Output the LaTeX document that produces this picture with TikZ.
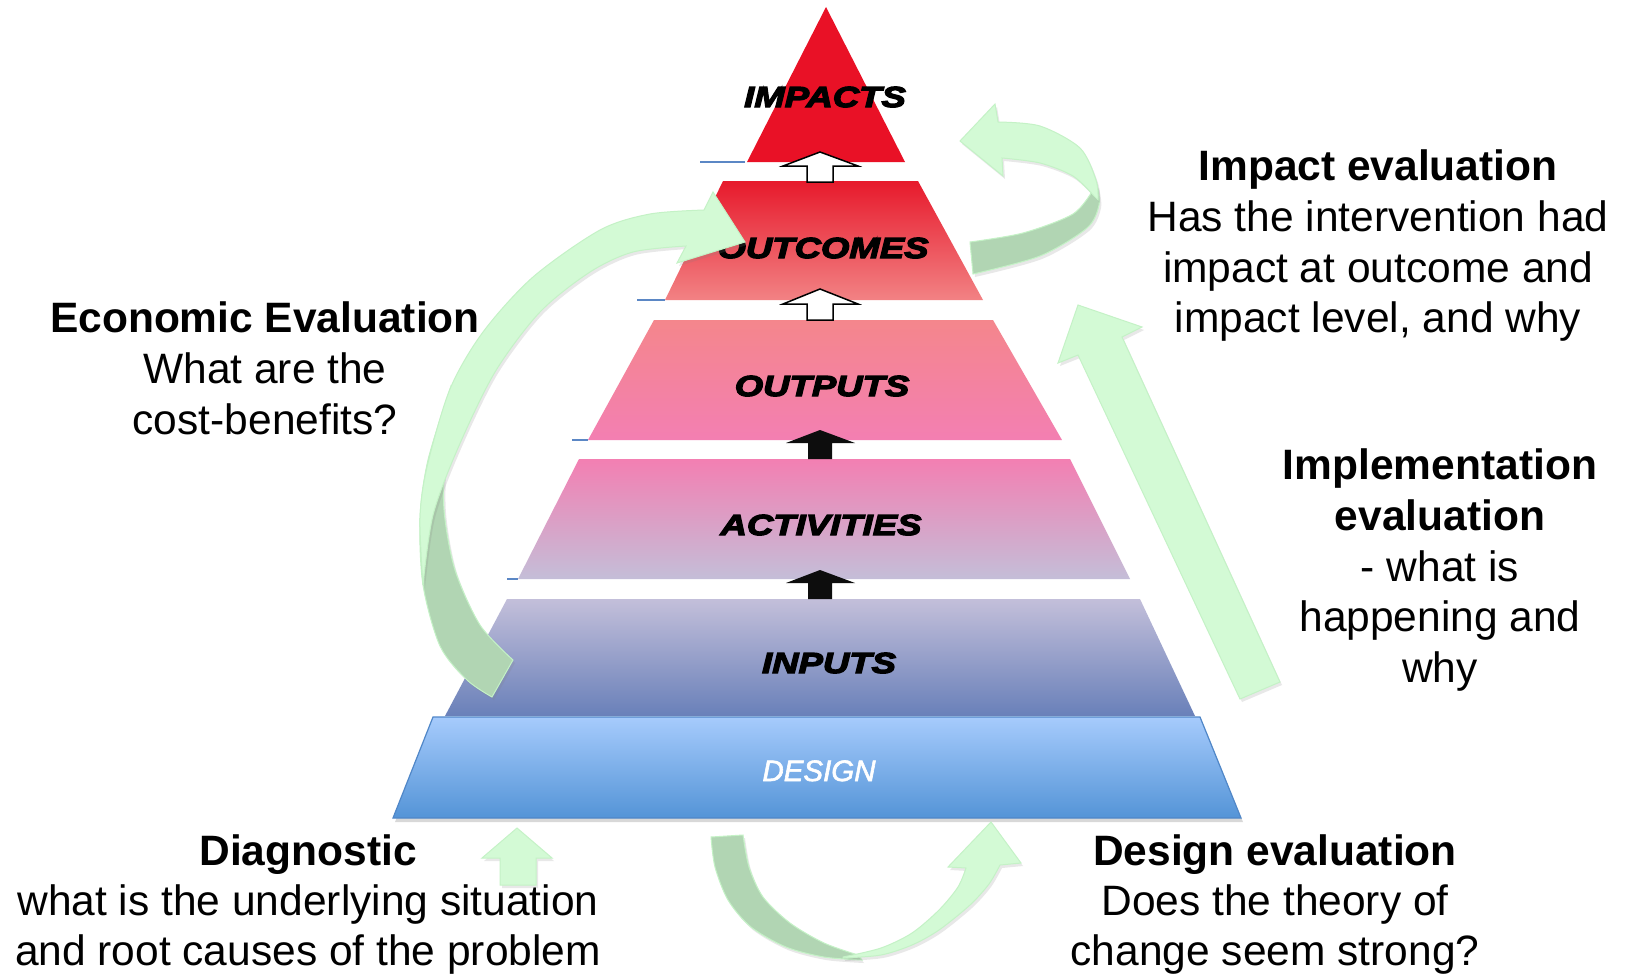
\documentclass[tikz,border=0pt]{standalone}
\usepackage{fontspec}
\setmainfont{Liberation Sans}
\newfontfamily\pyrfont[FakeStretch=1.26,FakeBold=4.5]{Liberation Sans}
\newfontfamily\desfont[FakeBold=2]{Liberation Sans}
\usetikzlibrary{shadows}
\definecolor{glight}{RGB}{211,250,213}
\definecolor{gdark}{RGB}{177,213,179}
\definecolor{gline}{RGB}{196,242,198}
\definecolor{redA}{RGB}{233,17,38}
\definecolor{redB}{RGB}{231,26,44}
\definecolor{salmon}{RGB}{242,130,132}
\definecolor{salmonB}{RGB}{244,134,140}
\definecolor{pinkA}{RGB}{243,127,178}
\definecolor{lavA}{RGB}{196,190,216}
\definecolor{lavB}{RGB}{195,191,218}
\definecolor{blueI}{RGB}{105,128,185}
\definecolor{dTop}{RGB}{166,203,252}
\definecolor{dBot}{RGB}{84,148,215}
\definecolor{dEdge}{RGB}{80,135,200}
\definecolor{tick}{RGB}{91,135,197}
\begin{document}
\begin{tikzpicture}[x=1pt,y=-1pt,
  txt/.style={font=\fontsize{42.5}{48}\selectfont, anchor=base, inner sep=0pt},
  pyr/.style={font=\pyrfont\bfseries\itshape\fontsize{29}{30}\selectfont, anchor=base, inner sep=0pt},
  garrow/.style={fill=glight, draw=gline, line width=1},
  gback/.style={fill=gdark, draw=gline, line width=1},
  gshadow/.style={drop shadow={opacity=0.18, shadow xshift=2pt, shadow yshift=-3pt}},
  whitearr/.style={fill=white, draw=black, line width=1.5},
  blackarr/.style={fill=black!95},
  bluetick/.style={draw=tick, line width=1.5}]
\useasboundingbox (0,0) rectangle (1625,975);
\fill[white] (0,0) rectangle (1625,975);

% ---------- pyramid layers ----------
\fill[redA] (826,7) -- (905,162) -- (747,162) -- cycle;
\shade[top color=redB, bottom color=salmon] (723,181) -- (918,181) -- (983,300) -- (665,300) -- cycle;
\shade[top color=salmonB, bottom color=pinkA] (654,320) -- (993,320) -- (1062,440) -- (588,440) -- cycle;
\shade[top color=pinkA, bottom color=lavA] (579,459) -- (1070,459) -- (1130,579) -- (518,579) -- cycle;
\shade[top color=lavB, bottom color=blueI] (507,599) -- (1140,599) -- (1195,716) -- (445,716) -- cycle;
\shade[top color=dTop, bottom color=dBot, drop shadow={opacity=0.3, shadow xshift=2pt, shadow yshift=-4pt}]
  (433,717) -- (1200,717) -- (1241,818) -- (393,818) -- cycle;
\draw[dEdge, line width=1.2] (433,717) -- (1200,717) -- (1241,818) -- (393,818) -- cycle;

% small blue ticks
\draw[bluetick] (700,162) -- (745,162);
\draw[bluetick] (637,300) -- (665,300);
\draw[bluetick] (572,440) -- (588,440);
\draw[bluetick] (507,579) -- (518,579);

% ---------- layer labels ----------
\node[pyr] (limp) at (825,107) {IMPACTS};
\node[pyr] (lout) at (823,258) {OUTCOMES};
\node[pyr] (lop)  at (822,396) {OUTPUTS};
\node[pyr] (lact) at (821,535) {ACTIVITIES};
\node[pyr] (linp) at (829,673) {INPUTS};
\node[font=\desfont\itshape\fontsize{29.5}{30}\selectfont, text=white, anchor=base, inner sep=0pt] (ldes) at (819,781) {DESIGN};

% ---------- arrows between layers ----------
\path[whitearr] (820,152) -- (858,166) -- (833,166) -- (833,182) -- (807,182) -- (807,166) -- (783,166) -- cycle;
\path[whitearr] (820,289) -- (858,304) -- (833,304) -- (833,320) -- (807,320) -- (807,304) -- (783,304) -- cycle;
\path[blackarr] (820,430) -- (855,443) -- (832,443) -- (832,459) -- (808,459) -- (808,443) -- (786,443) -- cycle;
\path[blackarr] (820,570) -- (855,583) -- (832,583) -- (832,599) -- (808,599) -- (808,583) -- (786,583) -- cycle;

% ---------- Economic evaluation curved arrow ----------
\path[gback, gshadow] plot[smooth] coordinates {(450,389) (428,460) (420,518) (423,585) (440,646) (467,680) (492,697)}
  -- (513,660) -- plot[smooth] coordinates {(513,660) (480,625) (455,570) (444,510) (445,450) (450,389)} -- cycle;
\path[garrow, gshadow] plot[smooth] coordinates {(423,585) (420,518) (427,467) (450,389) (483,332) (533,277) (600,230) (650,214) (704,210)}
  -- (713,192) -- (745,242) -- (677,263) -- (686,246)
  -- plot[smooth] coordinates {(686,246) (633,252) (590,272) (540,312) (495,372) (458,448) (433,515) (423,585)} -- cycle;

% ---------- Impact evaluation curved arrow ----------
\path[gback, gshadow] plot[smooth] coordinates {(1093,190) (1073,214) (1023,233) (970,242)}
  -- (973,274) -- plot[smooth] coordinates {(973,274) (1040,256) (1087,228) (1099,205) (1097,185)} -- cycle;
\path[garrow, gshadow] plot[smooth] coordinates {(998,122) (1040,126) (1080,148) (1096,180) (1098,200)}
  -- plot[smooth] coordinates {(1094,196) (1073,176) (1040,163) (1002,158)}
  -- (1003,176) -- (960,141) -- (995,104) -- cycle;

% ---------- Implementation evaluation straight arrow ----------
\path[garrow, gshadow] (1078,305) -- (1142,327) -- (1122,337) -- (1280,682) -- (1240,699) -- (1078,355) -- (1058,363) -- cycle;

% ---------- Diagnostic up arrow ----------
\path[garrow, gshadow] (517,828) -- (552,858) -- (536,858) -- (536,885) -- (500,885) -- (500,858) -- (482,858) -- cycle;

% ---------- Design evaluation U arrow ----------
\path[gback, gshadow] plot[smooth] coordinates {(711,837) (715,867) (728,900) (751,927) (786,947) (824,957) (862,960)}
  -- plot[smooth] coordinates {(858,955) (824,943) (790,923) (763,897) (749,867) (743,835)} -- cycle;
\path[garrow, gshadow] plot[smooth] coordinates {(843,958) (881,955) (912,945) (939,930) (970,905) (989,884) (1000,865)}
  -- (1021,863) -- (991,822) -- (948,867) -- (966,868)
  -- plot[smooth] coordinates {(966,868) (958,887) (939,910) (912,933) (881,948) (843,957)} -- cycle;

% ---------- texts ----------
\node[txt] (ie1) at (1378,180) {\bfseries Impact evaluation};
\node[txt] (ie2) at (1378,231) {Has the intervention had};
\node[txt] (ie3) at (1378,282) {impact at outcome and};
\node[txt] (ie4) at (1378,332) {impact level, and why};

\node[txt] (ee1) at (265,332) {\bfseries Economic Evaluation};
\node[txt] (ee2) at (265,383) {What are the};
\node[txt] (ee3) at (265,434) {cost-benefits?};

\node[txt] (im1) at (1440,479) {\bfseries Implementation};
\node[txt] (im2) at (1440,530) {\bfseries evaluation};
\node[txt] (im3) at (1440,581) {- what is};
\node[txt] (im4) at (1440,631) {happening and};
\node[txt] (im5) at (1440,682) {why};

\node[txt] (dg1) at (308,865) {\bfseries Diagnostic};
\node[txt] (dg2) at (308,915) {what is the underlying situation};
\node[txt] (dg3) at (308,965) {and root causes of the problem};

\node[txt] (de1) at (1275,865) {\bfseries Design evaluation};
\node[txt] (de2) at (1275,915) {Does the theory of};
\node[txt] (de3) at (1275,965) {change seem strong?};
\end{tikzpicture}
\end{document}
